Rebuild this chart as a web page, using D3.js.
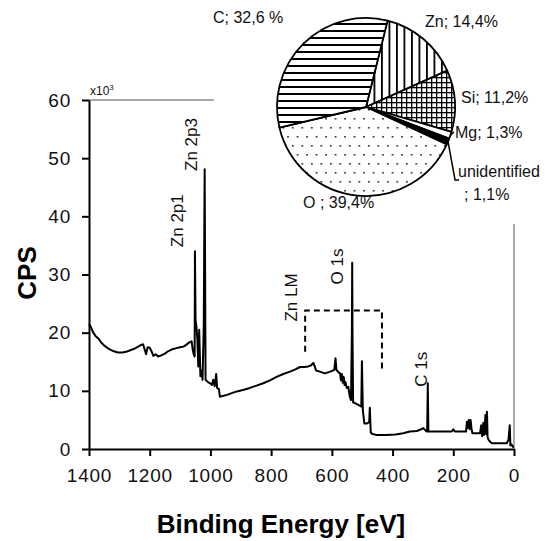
<!DOCTYPE html>
<html><head><meta charset="utf-8">
<script src="https://cdn.jsdelivr.net/npm/d3@7"></script>
<style>body{margin:0;background:#fff;} svg{display:block;font-family:"Liberation Sans",Arial,sans-serif;}</style>
</head><body><svg id="c" width="555" height="541"></svg>
<script>
// ---- data ----
const bindingEnergy = [1400,1394,1386,1378,1369,1360,1350,1340,1330,1318,1305,1290,1278,1268,1258,1248,1238,1228,1222,1217,1212,1207,1200,1194,1188,1180,1172,1162,1150,1140,1128,1115,1100,1089,1080,1073,1066,1062,1058,1055,1052,1051,1049,1046,1043,1040,1037,1033,1030,1026,1022,1019,1016,1008,1001,995,991,986,981,978,972,969,960,945,930,913,890,870,848,826,804,782,760,738,720,705,690,678,668,661,657,652,640,623,605,592,588,585,578,573,570,567,564,561,558,555,551,546,541,537,534,533,532,530,524,513,503,501,498,493,484,477,475,472,468,452,420,390,365,343,320,310,299,292,286,284,282,276,250,233,205,200,195,158,155,152,149,146,143,140,137,112,108,105,101,98,94,91,89,87,84,78,73,50,24,18,14,12,8,4,0];
const cpsK = [21.5,21.0,20.0,19.4,19.0,18.3,17.8,17.4,17.1,16.8,16.6,16.6,16.7,16.9,17.1,17.3,17.6,17.9,18.0,17.2,16.3,17.5,17.4,16.8,16.0,16.3,15.9,16.1,16.4,16.8,17.1,17.3,17.5,17.6,17.9,18.2,18.4,18.5,17.0,16.3,15.9,34.0,22.2,21.0,18.8,14.2,20.5,12.5,13.5,11.9,21.1,48.1,11.9,11.5,11.3,11.0,11.9,10.8,12.9,10.5,10.3,9.0,9.1,9.3,9.6,9.9,10.2,10.5,10.9,11.3,11.8,12.4,12.9,13.3,13.7,14.1,14.1,14.2,14.4,14.8,14.3,13.5,13.3,13.0,13.3,13.6,15.6,13.6,13.2,13.0,11.8,12.9,11.4,12.4,11.0,11.5,10.5,10.7,9.0,8.4,20.0,32.0,20.0,8.0,7.9,7.6,7.3,15.1,6.7,4.4,4.4,4.6,7.1,2.9,2.6,2.4,2.4,2.5,2.7,3.0,3.1,3.3,3.6,3.2,3.0,11.3,3.0,3.0,3.0,3.0,3.0,3.4,3.0,3.0,4.7,3.6,5.0,3.4,5.0,3.5,2.7,2.7,4.1,2.2,4.5,2.4,5.9,2.6,6.4,2.0,1.6,1.2,1.0,1.0,1.0,1.6,4.1,0.6,0.8,0.4,0.4];
const xTicks = [1400,1200,1000,800,600,400,200,0];
const yTicks = [0,10,20,30,40,50,60];
const peakNames = ["Zn 2p1","Zn 2p3","Zn LM","O 1s","C 1s"];
const peakLabelEnergy = [1090,1044,715,563,287];
const peakLabelCps = [34.7,47.8,21.9,28.3,10.7];
const bracketEnergy = [688,688,435,435];
const bracketCps = [16.7,23.8,23.8,13.8];
const elements = ["Zn","Si","Mg","unidentified","O","C"];
const percents = [14.4,11.2,1.3,1.1,39.4,32.6];
const pieLabels = ["Zn; 14,4%","Si; 11,2%","Mg; 1,3%",["unidentified","; 1,1%"],"O ; 39,4%","C; 32,6 %"];

// ---- layout ----
const svg = d3.select("#c");
const font = '"Liberation Sans",Arial,sans-serif';
const x = d3.scaleLinear().domain([1400,0]).range([89,514]);
const y = d3.scaleLinear().domain([0,60]).range([449,100]);

// patterns
const defs = svg.append("defs");
let p = defs.append("pattern").attr("id","hz").attr("patternUnits","userSpaceOnUse").attr("width",8).attr("height",7);
p.append("rect").attr("width",8).attr("height",7).attr("fill","#fff");
p.append("rect").attr("y",0).attr("width",8).attr("height",2).attr("fill","#000");
p = defs.append("pattern").attr("id","vt").attr("patternUnits","userSpaceOnUse").attr("width",7.5).attr("height",8);
p.append("rect").attr("width",7.5).attr("height",8).attr("fill","#fff");
p.append("rect").attr("x",0).attr("width",1.8).attr("height",8).attr("fill","#000");
p = defs.append("pattern").attr("id","grid").attr("patternUnits","userSpaceOnUse").attr("width",5).attr("height",5);
p.append("rect").attr("width",5).attr("height",5).attr("fill","#fff");
p.append("rect").attr("width",5).attr("height",1.3).attr("fill","#000");
p.append("rect").attr("width",1.3).attr("height",5).attr("fill","#000");
p = defs.append("pattern").attr("id","dots").attr("patternUnits","userSpaceOnUse").attr("width",9.5).attr("height",18);
p.append("rect").attr("width",9.5).attr("height",18).attr("fill","#fff");
p.append("rect").attr("x",2).attr("y",2).attr("width",1.6).attr("height",1.6).attr("fill","#222");
p.append("rect").attr("x",6.75).attr("y",11).attr("width",1.6).attr("height",1.6).attr("fill","#222");
const fills = {"Zn":"url(#vt)","Si":"url(#grid)","Mg":"#fff","unidentified":"#000","O":"url(#dots)","C":"url(#hz)"};

// plot area border (grey)
svg.append("path").attr("d",`M${x(1400)},${y(60)}H${x(0)}V${y(0)}`).attr("fill","none").attr("stroke","#a8a8a8").attr("stroke-width",2);

// spectrum
const pts = bindingEnergy.map((e,i)=>[e,cpsK[i]]);
svg.append("path").datum(pts)
  .attr("d",d3.line().x(d=>x(d[0])).y(d=>y(d[1])))
  .attr("fill","none").attr("stroke","#000").attr("stroke-width",2).attr("stroke-linejoin","round");

// dashed bracket
svg.append("path").datum(bracketEnergy.map((e,i)=>[e,bracketCps[i]]))
  .attr("d",d3.line().x(d=>x(d[0])).y(d=>y(d[1])))
  .attr("fill","none").attr("stroke","#000").attr("stroke-width",2).attr("stroke-dasharray","6,4");

// peak labels
peakNames.forEach((n,i)=>{
  svg.append("text").attr("transform",`translate(${x(peakLabelEnergy[i])},${y(peakLabelCps[i])}) rotate(-90)`)
    .attr("font-size",17).attr("fill","#111").text(n);
});

// axes
const gx = svg.append("g").attr("transform",`translate(0,${y(0)})`)
  .call(d3.axisBottom(x).tickValues(xTicks).tickFormat(d3.format("d")).tickSize(7).tickSizeOuter(0).tickPadding(13));
const gy = svg.append("g").attr("transform",`translate(${x(1400)},0)`)
  .call(d3.axisLeft(y).tickValues(yTicks).tickSize(7).tickSizeOuter(0).tickPadding(11));
[gx,gy].forEach(g=>{
  g.select(".domain").attr("stroke","#000").attr("stroke-width",2);
  g.selectAll(".tick line").attr("stroke","#000").attr("stroke-width",2);
  g.selectAll(".tick text").attr("font-family",font).attr("font-size",19).attr("fill","#111").attr("letter-spacing","0.8px");
});

// x10^3
const mult = svg.append("text").attr("x",x(1400)+1).attr("y",95).attr("font-size",12).attr("fill","#111");
mult.append("tspan").text("x10");
mult.append("tspan").attr("dy",-5).attr("font-size",8).text("3");

// axis titles
svg.append("text").attr("transform","translate(36,273) rotate(-90)").attr("text-anchor","middle")
  .attr("font-size",26).attr("font-weight","bold").attr("fill","#000").text("CPS");
svg.append("text").attr("x",281).attr("y",533).attr("text-anchor","middle")
  .attr("font-size",26).attr("font-weight","bold").attr("fill","#000").text("Binding Energy [eV]");

// pie inset
svg.append("rect").attr("x",214).attr("y",0).attr("width",341).attr("height",224).attr("fill","#fff");
const cx = 366, cy = 107, r = 89;
const start = 14*Math.PI/180;
const pie = d3.pie().sort(null).value(d=>d.v).startAngle(start).endAngle(start+2*Math.PI);
const arcs = pie(elements.map((e,i)=>({e, v:percents[i], label:pieLabels[i]})));
const arc = d3.arc().innerRadius(0).outerRadius(r);
const gp = svg.append("g").attr("transform",`translate(${cx},${cy})`);
gp.selectAll("path.s").data(arcs).join("path").attr("class","s")
  .attr("d",arc).attr("fill",d=>fills[d.data.e]).attr("stroke","#000").attr("stroke-width",1.8).attr("stroke-linejoin","round");

// pie labels
const labelPos = {"Zn":[425,27],"Si":[461,103],"Mg":[455,138],"unidentified":[458,177],"O":[303,208],"C":[213,23]};
arcs.forEach(d=>{
  const [lx,ly] = labelPos[d.data.e];
  const t = svg.append("text").attr("x",lx).attr("y",ly).attr("font-size",16).attr("fill","#111");
  if (Array.isArray(d.data.label)) {
    t.text(d.data.label[0]);
    svg.append("text").attr("x",lx+6).attr("y",ly+23).attr("font-size",16).attr("fill","#111").text(d.data.label[1]);
  } else t.text(d.data.label);
});
// leader lines
const mid = d=> (d.startAngle+d.endAngle)/2;
const edge = (d,rr)=>[cx+rr*Math.sin(mid(d)), cy-rr*Math.cos(mid(d))];
const aMg = arcs.find(d=>d.data.e==="Mg"), aUn = arcs.find(d=>d.data.e==="unidentified");
let e1 = edge(aMg,r);
svg.append("path").attr("d",`M${e1[0]},${e1[1]}L${labelPos.Mg[0]-1},${labelPos.Mg[1]-6}`).attr("stroke","#000").attr("stroke-width",1.5).attr("fill","none");
let e2 = edge(aUn,r);
svg.append("path").attr("d",`M${e2[0]},${e2[1]}L${e2[0]+7},${labelPos.unidentified[1]+3}H${e2[0]+11}`).attr("stroke","#000").attr("stroke-width",1.5).attr("fill","none");
</script></body></html>
